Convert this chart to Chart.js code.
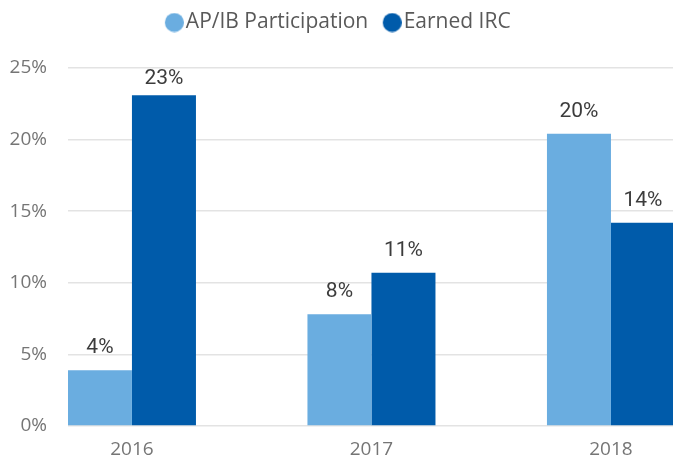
<!DOCTYPE html>
<html>
<head>
<meta charset="utf-8">
<script src="https://cdn.jsdelivr.net/npm/chart.js@4.4.1/dist/chart.umd.min.js"></script>
<style>
  html, body { margin: 0; padding: 0; background: #ffffff; }
  #wrap { width: 673px; height: 459px; position: relative; }
</style>
</head>
<body>
<div id="wrap"><canvas id="irc-chart"></canvas></div>
<script>

    // Data

    var years = ['2016', '2017', '2018'];
    var apibParticipation = [3.9, 7.8, 20.4];
    var earnedIrc = [23.1, 10.7, 14.2];
    var yTicks = [0, 5, 10, 15, 20, 25];

    var lightBlue = '#6aade0';
    var darkBlue = '#005baa';


    // Legend dots: circle sits at the right of a small canvas so it hugs the text

    function legendDot(color) {
        var c = document.createElement('canvas');
        c.width = 30;
        c.height = 20;
        var g = c.getContext('2d');
        g.fillStyle = color;
        g.beginPath();
        g.arc(20.5, 10, 9.5, 0, Math.PI * 2);
        g.fill();
        return c;
    }


    // Labels above the bars (kept inside the plot area, like the original)

    var barLabels = {
        id: 'barLabels',
        afterDatasetsDraw: function (chart) {
            var ctx = chart.ctx;
            ctx.save();
            ctx.font = '21px Roboto';
            ctx.fillStyle = '#3c3c3c';
            ctx.textAlign = 'center';
            ctx.textBaseline = 'alphabetic';
            chart.data.datasets.forEach(function (ds, i) {
                chart.getDatasetMeta(i).data.forEach(function (bar, j) {
                    var v = ds.data[j].y;
                    var y = Math.max(bar.y - 17, chart.chartArea.top + 16);
                    ctx.fillText(Math.round(v) + '%', bar.x, y);
                });
            });
            ctx.restore();
        }
    };

    // Extra room between legend and plot

    var legendGap = {
        id: 'legendGap',
        beforeInit: function (chart) {
            var fit = chart.legend.fit;
            chart.legend.fit = function () {
                fit.bind(chart.legend)();
                this.height += 25;
            };
        }
    };


    // Chart

    var toPoints = function (values) {
        return values.map(function (v, i) { return { x: i, y: v }; });
    };

    var chart = new Chart(document.getElementById('irc-chart'), {
        type: 'bar',
        data: {
            datasets: [{
                label: 'AP/IB Participation',
                data: toPoints(apibParticipation),
                backgroundColor: lightBlue,
                pointStyle: legendDot(lightBlue)
            }, {
                label: 'Earned IRC',
                data: toPoints(earnedIrc),
                backgroundColor: darkBlue,
                pointStyle: legendDot(darkBlue)
            }]
        },
        options: {
            responsive: true,
            maintainAspectRatio: false,
            animation: false,
            categoryPercentage: 0.5345,
            barPercentage: 1,
            layout: { padding: 0 },
            plugins: {
                tooltip: { enabled: false },
                legend: {
                    position: 'top',
                    labels: {
                        usePointStyle: true,
                        boxWidth: 13,
                        boxHeight: 13,
                        padding: 12,
                        color: '#595959',
                        font: { family: 'Open Sans', size: 21 }
                    }
                }
            },
            scales: {
                x: {
                    type: 'linear',
                    offset: false,
                    min: -0.267,
                    max: 2.259,
                    afterBuildTicks: function (scale) {
                        scale.ticks = years.map(function (y, i) { return { value: i }; });
                    },
                    afterFit: function (scale) { scale.height = 33; },
                    grid: { display: false, drawTicks: false, offset: false },
                    border: { display: false },
                    ticks: {
                        padding: 12,
                        color: '#757575',
                        font: { family: 'Open Sans', size: 19 },
                        callback: function (v) { return years[v]; }
                    }
                },
                y: {
                    min: 0,
                    max: 25,
                    afterBuildTicks: function (scale) {
                        scale.ticks = yTicks.map(function (t) { return { value: t }; });
                    },
                    afterFit: function (scale) { scale.width = 68; },
                    grid: { color: '#e3e3e3', lineWidth: 1.5, drawTicks: false },
                    border: { display: false },
                    ticks: {
                        padding: 21,
                        color: '#757575',
                        font: { family: 'Open Sans', size: 19 },
                        callback: function (v) { return v + '%'; }
                    }
                }
            }
        },
        plugins: [barLabels, legendGap]
    });

</script>
</body>
</html>
